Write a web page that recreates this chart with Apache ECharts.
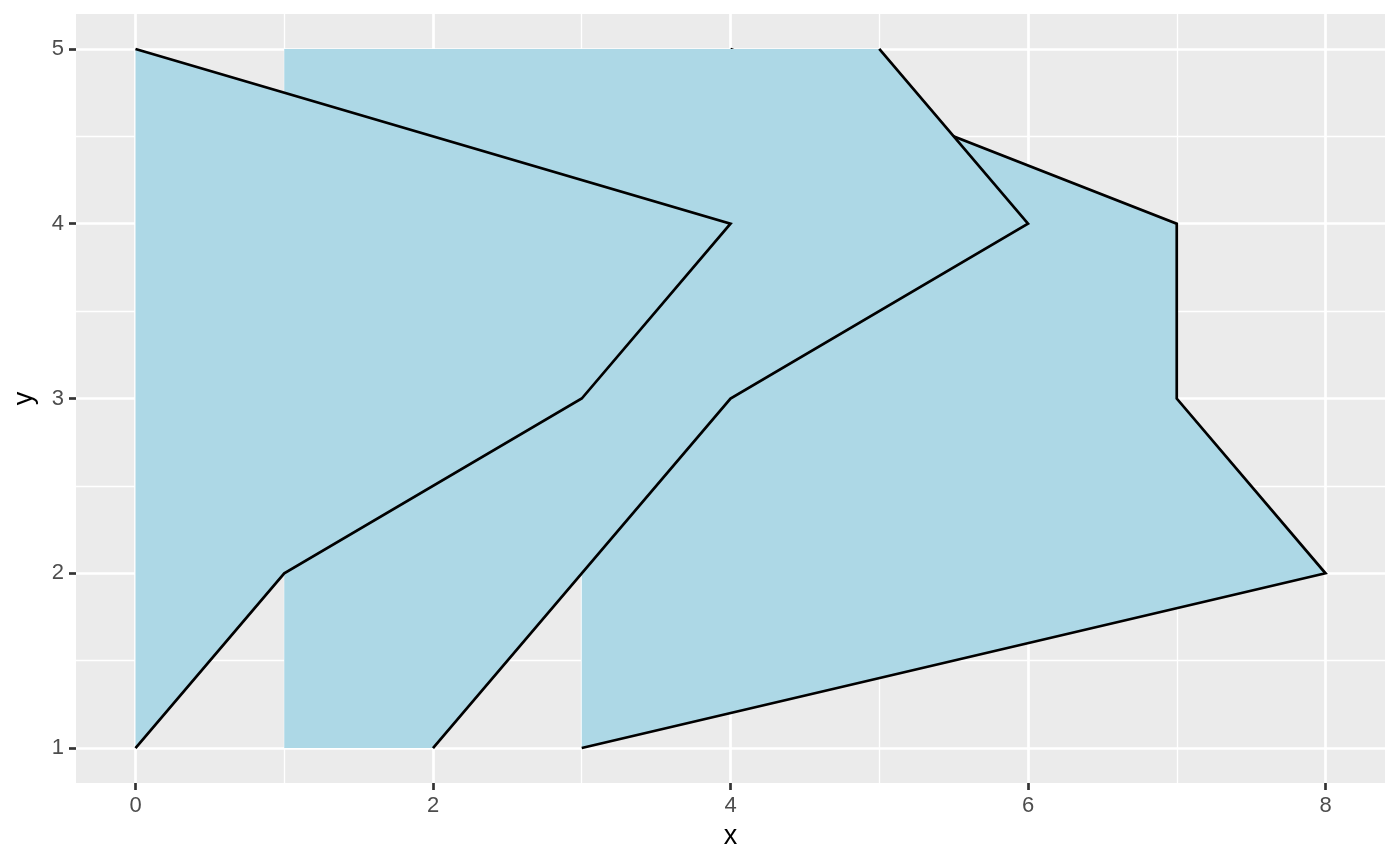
<!DOCTYPE html>
<html>
<head>
<meta charset="utf-8">
<script src="https://cdn.jsdelivr.net/npm/echarts@6/dist/echarts.min.js"></script>
<style>
html,body{margin:0;padding:0;background:#fff;}
#chart{width:1400px;height:866px;}
</style>
</head>
<body>
<div id="chart"></div>
<script>
// ---- data ----
const yValues = [1, 2, 3, 4, 5];
const ribbonNames = ['A', 'B', 'C'];
const xMinA = [0, 0, 0, 0, 0];
const xMaxA = [0, 1, 3, 4, 0];
const xMinB = [1, 1, 1, 1, 1];
const xMaxB = [2, 3, 4, 6, 5];
const xMinC = [3, 3, 3, 3, 3];
const xMaxC = [3, 8, 7, 7, 4];
const xTickValues = [0, 2, 4, 6, 8];
const yTickValues = [1, 2, 3, 4, 5];

const ribbons = [
  { name: ribbonNames[0], xmin: xMinA, xmax: xMaxA },
  { name: ribbonNames[1], xmin: xMinB, xmax: xMaxB },
  { name: ribbonNames[2], xmin: xMinC, xmax: xMaxC }
];

const FONT = '"Liberation Sans", Arial, sans-serif';
const FILL = '#ADD8E6';

function makeSeries(r) {
  const rows = yValues.map((y, i) => [r.xmin[i], r.xmax[i], y]);
  return {
    type: 'custom',
    name: r.name,
    coordinateSystem: 'cartesian2d',
    data: rows,
    encode: { x: [0, 1], y: 2 },
    clip: true,
    silent: true,
    renderItem: function (params, api) {
      if (params.dataIndex !== 0) return null;
      const lower = rows.map(row => api.coord([row[0], row[2]]));
      const upper = rows.map(row => api.coord([row[1], row[2]]));
      const poly = lower.concat(upper.slice().reverse());
      return {
        type: 'group',
        children: [
          { type: 'polygon', shape: { points: poly }, style: { fill: FILL, stroke: null } },
          { type: 'polyline', shape: { points: upper }, style: { stroke: '#000', lineWidth: 2.7, fill: null, lineJoin: 'miter' } }
        ]
      };
    }
  };
}

const chart = echarts.init(document.getElementById('chart'), null, { renderer: 'canvas' });
const option = {
  animation: false,
  backgroundColor: '#ffffff',
  grid: { left: 76, top: 14, width: 1309, height: 769, show: true, backgroundColor: '#EBEBEB', borderWidth: 0, containLabel: false },
  xAxis: {
    type: 'value', min: -0.4, max: 8.4, splitNumber: 4, position: 'bottom',
    name: 'x', nameLocation: 'middle', nameGap: 40,
    nameTextStyle: { color: '#000', fontSize: 27, fontFamily: FONT },
    axisLine: { show: false, onZero: false },
    axisTick: { show: true, length: 7, customValues: xTickValues, lineStyle: { color: '#333333', width: 2.7 } },
    axisLabel: { customValues: xTickValues, color: '#4D4D4D', fontSize: 22, fontFamily: FONT, margin: 12 },
    splitLine: { show: true, lineStyle: { color: '#ffffff', width: 2.7 } },
    minorTick: { show: false, splitNumber: 2 },
    minorSplitLine: { show: true, lineStyle: { color: '#ffffff', width: 1.35 } }
  },
  yAxis: {
    type: 'value', min: 0.8, max: 5.2, splitNumber: 4, position: 'left',
    name: 'y', nameLocation: 'middle', nameGap: 38, nameRotate: 90,
    nameTextStyle: { color: '#000', fontSize: 27, fontFamily: FONT },
    axisLine: { show: false, onZero: false },
    axisTick: { show: true, length: 7, customValues: yTickValues, lineStyle: { color: '#333333', width: 2.7 } },
    axisLabel: { customValues: yTickValues, color: '#4D4D4D', fontSize: 22, fontFamily: FONT, margin: 12 },
    splitLine: { show: true, lineStyle: { color: '#ffffff', width: 2.7 } },
    minorTick: { show: false, splitNumber: 2 },
    minorSplitLine: { show: true, lineStyle: { color: '#ffffff', width: 1.35 } }
  },
  series: [makeSeries(ribbons[2]), makeSeries(ribbons[1]), makeSeries(ribbons[0])]
};
chart.setOption(option);
</script>
</body>
</html>
